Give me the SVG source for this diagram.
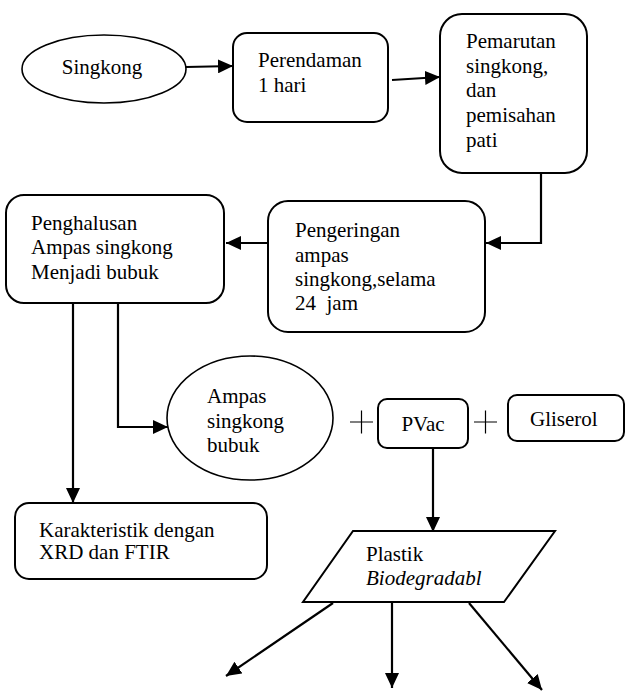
<svg xmlns="http://www.w3.org/2000/svg" width="625" height="691" viewBox="0 0 625 691">
<style>
.n{fill:#fff;stroke:#000;stroke-width:2}
.e{fill:#fff;stroke:#000;stroke-width:1.6}
.t{font-family:"Liberation Serif","Times New Roman",serif;font-size:21px;fill:#000}
.c{fill:none;stroke:#000;stroke-width:2.2}
.p{fill:none;stroke:#000;stroke-width:1.2}
</style>
<defs>
<marker id="ah" markerUnits="userSpaceOnUse" markerWidth="15" markerHeight="14" refX="15" refY="7" orient="auto">
<path d="M0,0 L15,7 L0,14 z" fill="#000"/>
</marker>
</defs>
<rect width="625" height="691" fill="#fff"/>
<g id="connectors">
<path class="c" d="M186,67 L233,66" marker-end="url(#ah)"/>
<path class="c" d="M392,80 L440,77" marker-end="url(#ah)"/>
<path class="c" d="M541,173 L541,243 L486,243" marker-end="url(#ah)"/>
<path class="c" d="M268,243 L226,243" marker-end="url(#ah)"/>
<path class="c" d="M73,303 L73,503" marker-end="url(#ah)"/>
<path class="c" d="M118,303 L118,427 L168,427" marker-end="url(#ah)"/>
<path class="c" d="M433,448 L433,532" marker-end="url(#ah)"/>
<path class="c" d="M333,603 L226,676" marker-end="url(#ah)"/>
<path class="c" d="M392,603 L392,688" marker-end="url(#ah)"/>
<path class="c" d="M469,603 L542,690" marker-end="url(#ah)"/>
</g>
<g id="singkong">
<ellipse class="e" cx="104" cy="69" rx="82" ry="34"/>
<text class="t" x="102" y="74" text-anchor="middle">Singkong</text>
</g>
<g id="perendaman">
<rect class="n" x="233" y="33" width="155" height="89" rx="14"/>
<text class="t" x="258" y="67">Perendaman</text>
<text class="t" x="258" y="92">1 hari</text>
</g>
<g id="pemarutan">
<rect class="n" x="440" y="14" width="147" height="159" rx="22"/>
<text class="t" x="466" y="48">Pemarutan</text>
<text class="t" x="466" y="73">singkong,</text>
<text class="t" x="466" y="97">dan</text>
<text class="t" x="466" y="122">pemisahan</text>
<text class="t" x="466" y="147">pati</text>
</g>
<g id="pengeringan">
<rect class="n" x="268" y="201" width="217" height="131" rx="20"/>
<text class="t" x="295" y="237">Pengeringan</text>
<text class="t" x="295" y="262">ampas</text>
<text class="t" x="295" y="286">singkong,selama</text>
<text class="t" x="295" y="310" xml:space="preserve">24  jam</text>
</g>
<g id="penghalusan">
<rect class="n" x="6" y="195" width="218" height="108" rx="18"/>
<text class="t" x="31" y="230">Penghalusan</text>
<text class="t" x="31" y="254">Ampas singkong</text>
<text class="t" x="31" y="279">Menjadi bubuk</text>
</g>
<g id="ampas">
<ellipse class="e" cx="250" cy="418" rx="83" ry="62"/>
<text class="t" x="207" y="403">Ampas</text>
<text class="t" x="207" y="428">singkong</text>
<text class="t" x="207" y="452">bubuk</text>
</g>
<g id="plus1">
<path class="p" d="M350,422 H373 M361.5,410.5 V433.5"/>
</g>
<g id="pvac">
<rect class="n" x="378" y="399" width="90" height="49" rx="9"/>
<text class="t" x="423" y="431" text-anchor="middle">PVac</text>
</g>
<g id="plus2">
<path class="p" d="M474,422 H497 M485.5,410.5 V433.5"/>
</g>
<g id="gliserol">
<rect class="n" x="508" y="395" width="116" height="46" rx="9"/>
<text class="t" x="530" y="426">Gliserol</text>
</g>
<g id="karakteristik">
<rect class="n" x="15" y="503" width="252" height="76" rx="14"/>
<text class="t" x="39" y="537">Karakteristik dengan</text>
<text class="t" x="39" y="559">XRD dan FTIR</text>
</g>
<g id="plastik">
<polygon class="n" points="353,531 555,531 504,602 303,602"/>
<text class="t" x="366" y="561">Plastik</text>
<text class="t" x="366" y="585" font-style="italic">Biodegradabl</text>
</g>
</svg>
